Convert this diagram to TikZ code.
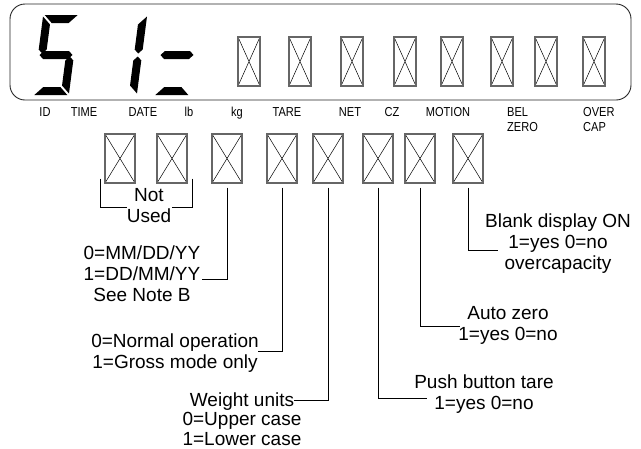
\documentclass[tikz,border=0pt]{standalone}
\usepackage{fontspec}
\setmainfont{Liberation Sans}
\newfontfamily\labelfont[FakeStretch=0.85]{Liberation Sans}

\begin{document}
\begin{tikzpicture}[x=1pt, y=-1pt,
			xbox/.style={draw=black!60, line width=1.1pt, rectangle, minimum width=30pt, minimum height=49pt, inner sep=0pt,
				path picture={\draw[black, line width=0.5pt] (path picture bounding box.north west) -- (path picture bounding box.south east)
					(path picture bounding box.north east) -- (path picture bounding box.south west);}},
			tbox/.style={xbox, minimum width=22pt},
			lbl/.style={font=\labelfont\fontsize{13}{15.5}\selectfont, anchor=north, inner sep=0pt},
			txt/.style={font=\fontsize{19}{21}\selectfont, align=center, inner sep=0pt},
			wire/.style={draw, line width=0.8pt, shorten <=4pt},
			seg/.style={fill=black}]
			\useasboundingbox (0,0) rectangle (641,448);
			\draw[line width=0.9pt, black!85, rounded corners=15pt] (10,4) rectangle (631,100);

			% the digits 5 1 =
			\begin{scope}[shift={(56,55)}, xslant=0.13]
			\fill[seg] (-16.5,-40) -- (16.5,-40) -- (8.5,-32) -- (-8.5,-32) -- cycle;
			\fill[seg] (-18,-38.5) -- (-10,-30.5) -- (-10,-5.5) -- (-14,-1.5) -- (-18,-5.5) -- cycle;
			\fill[seg] (-16.5,0) -- (-12.5,-4) -- (12.5,-4) -- (16.5,0) -- (12.5,4) -- (-12.5,4) -- cycle;
			\fill[seg] (18,38.5) -- (10,30.5) -- (10,5.5) -- (14,1.5) -- (18,5.5) -- cycle;
			\fill[seg] (-16.5,40) -- (16.5,40) -- (8.5,32) -- (-8.5,32) -- cycle;
			\end{scope}
			\begin{scope}[shift={(124,55)}, xslant=0.13]
			\fill[seg] (18,-38.5) -- (10,-30.5) -- (10,-5.5) -- (14,-1.5) -- (18,-5.5) -- cycle;
			\fill[seg] (18,38.5) -- (10,30.5) -- (10,5.5) -- (14,1.5) -- (18,5.5) -- cycle;
			\end{scope}
			\begin{scope}[shift={(177,55)}, xslant=0.13]
			\fill[seg] (-16.5,0) -- (-12.5,-4) -- (12.5,-4) -- (16.5,0) -- (12.5,4) -- (-12.5,4) -- cycle;
			\fill[seg] (-16.5,40) -- (16.5,40) -- (8.5,32) -- (-8.5,32) -- cycle;
			\end{scope}

			% annunciator boxes
			\node[tbox] (t1) at (249,61.5) {};
			\node[tbox] (t2) at (300,61.5) {};
			\node[tbox] (t3) at (352,61.5) {};
			\node[tbox] (t4) at (405,61.5) {};
			\node[tbox] (t5) at (452,61.5) {};
			\node[tbox] (t6) at (502,61.5) {};
			\node[tbox] (t7) at (546,61.5) {};
			\node[tbox] (t8) at (594,61.5) {};

			\node[lbl] (lid) at (45,107) {ID};
			\node[lbl] (ltime) at (84,107) {TIME};
			\node[lbl] (ldate) at (143,107) {DATE};
			\node[lbl] (llb) at (189,107) {lb};
			\node[lbl] (lkg) at (237,107) {kg};
			\node[lbl] (ltare) at (287,107) {TARE};
			\node[lbl] (lnet) at (350,107) {NET};
			\node[lbl] (lcz) at (392,107) {CZ};
			\node[lbl] (lmotion) at (448,107) {MOTION};
			\node[lbl, anchor=north west, align=left] (lbel) at (507,107) {BEL\\ZERO};
			\node[lbl, anchor=north west, align=left] (lover) at (583,107) {OVER\\CAP};

			% setting digits
			\node[xbox] (b1) at (120,158.5) {};
			\node[xbox] (b2) at (172,158.5) {};
			\node[xbox] (b3) at (227,158.5) {};
			\node[xbox] (b4) at (282,158.5) {};
			\node[xbox] (b5) at (328,158.5) {};
			\node[xbox] (b6) at (378,158.5) {};
			\node[xbox] (b7) at (420,158.5) {};
			\node[xbox] (b8) at (468,158.5) {};

			\node[txt] (notused) at (149,205.5) {Not\\Used};
			\coordinate (usedL) at (127,207);
			\coordinate (usedR) at (172,207);
			\draw[line width=0.8pt] ([shift={(-4pt,5pt)}]b1.south west) |- (usedL);
			\draw[line width=0.8pt] ([shift={(5pt,5pt)}]b2.south east) |- (usedR);

			\node[txt] (dateopt) at (142,273.5) {0=MM/DD/YY\\1=DD/MM/YY\\See Note B};
			\coordinate (datept) at (202,279);
			\draw[wire] (b3.south) |- (datept);

			\node[txt] (modeopt) at (175,353.4) {0=Normal operation\\1=Gross mode only};
			\coordinate (modept) at (258,351);
			\draw[wire] (b4.south) |- (modept);

			\node[txt, font=\fontsize{19}{19.5}\selectfont] (unitopt) at (242,419) {Weight units\\0=Upper case\\1=Lower case};
			\coordinate (unitpt) at (294,400);
			\draw[wire] (b5.south) |- (unitpt);

			\node[txt] (pushopt) at (484,394.3) {Push button tare\\1=yes 0=no};
			\coordinate (pushpt) at (427,398);
			\draw[wire] (b6.south) |- (pushpt);

			\node[txt] (autoopt) at (508,325.3) {Auto zero\\1=yes 0=no};
			\coordinate (autopt) at (460,326);
			\draw[wire] (b7.south) |- (autopt);

			\node[txt] (blankopt) at (558,244) {Blank display ON\\1=yes 0=no\\overcapacity};
			\coordinate (blankpt) at (498,250);
			\draw[wire] (b8.south) |- (blankpt);
\end{tikzpicture}
\end{document}
